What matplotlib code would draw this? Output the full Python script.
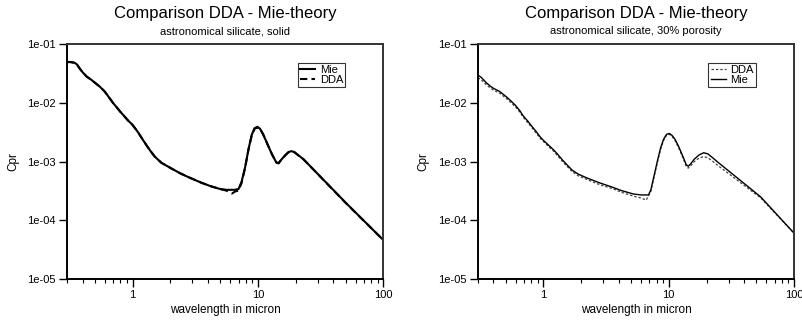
#!/usr/bin/env python3
"""Comparison DDA vs Mie-theory: radiation pressure cross section, two panels."""

import matplotlib
matplotlib.use("Agg")
import matplotlib.pyplot as plt
from matplotlib.ticker import FixedLocator, LogLocator, NullFormatter

plt.rcParams["font.family"] = ["Liberation Sans", "DejaVu Sans"]

# --- solid grain (left panel) ---
wl_solid_mie = [0.30, 0.32, 0.345, 0.36, 0.38, 0.40, 0.43, 0.47, 0.50, 0.55, 0.60, 0.65, 0.70,
                0.75, 0.80, 0.86, 0.92, 1.0, 1.1, 1.2, 1.3, 1.4, 1.5, 1.7, 2.0, 2.4, 2.8, 3.5,
                4.2, 5.0, 5.6, 6.5, 7.0, 7.4, 7.9, 8.4, 8.9, 9.4, 9.9, 10.4, 11.0, 12.0, 13.0,
                14.0, 14.6, 15.5, 16.5, 17.5, 18.5, 19.5, 21.0, 23.0, 50.0, 100.0]
cpr_solid_mie = [0.0494, 0.0494, 0.048, 0.045, 0.038, 0.033, 0.028, 0.0245, 0.022, 0.0187,
                 0.0155, 0.0123, 0.0099, 0.0083, 0.0070, 0.0059, 0.0050, 0.0042, 0.0032, 0.0024,
                 0.00185, 0.00148, 0.00122, 0.00095, 0.00078, 0.00063, 0.00054, 0.00044,
                 0.00038, 0.00034, 0.00033, 0.00033, 0.00034, 0.00045, 0.0008, 0.0016, 0.0028,
                 0.0037, 0.0039, 0.0036, 0.0029, 0.0019, 0.0013, 0.00097, 0.00094, 0.0011,
                 0.00128, 0.00145, 0.0015, 0.00145, 0.00128, 0.0011, 0.0002, 4.6e-5]
wl_solid_dda = [0.30, 0.32, 0.345, 0.36, 0.38, 0.40, 0.43, 0.47, 0.50, 0.55, 0.60, 0.65, 0.70,
                0.75, 0.80, 0.86, 0.92, 1.0, 1.1, 1.2, 1.3, 1.4, 1.5, 1.7, 2.0, 2.4, 2.8, 3.5,
                4.2, 5.0, 5.6, 6.2, 6.6, 7.0, 7.4, 7.9, 8.4, 8.9, 9.4, 9.9, 10.4, 11.0, 12.0,
                13.0, 14.0, 14.6, 15.5, 16.5, 17.5, 18.5, 19.5, 21.0, 23.0, 50.0, 100.0]
cpr_solid_dda = [0.0492, 0.0492, 0.0478, 0.0448, 0.038, 0.033, 0.028, 0.0245, 0.022, 0.0187,
                 0.0155, 0.0123, 0.0099, 0.0083, 0.0070, 0.0059, 0.0050, 0.0042, 0.0032, 0.0024,
                 0.00185, 0.00148, 0.00122, 0.00095, 0.00078, 0.00063, 0.00054, 0.00044,
                 0.00038, 0.00034, 0.00032, 0.000285, 0.00031, 0.00032, 0.00043, 0.00078,
                 0.0016, 0.0027, 0.0036, 0.0038, 0.0036, 0.0029, 0.0019, 0.0013, 0.00096,
                 0.00093, 0.0011, 0.00127, 0.00143, 0.00148, 0.00144, 0.00127, 0.0011,
                 0.000198, 4.6e-5]

# --- 30% porosity (right panel) ---
wl_por_mie = [0.30, 0.32, 0.35, 0.38, 0.40, 0.45, 0.51, 0.55, 0.60, 0.65, 0.69, 0.75, 0.80,
              0.87, 0.94, 1.0, 1.1, 1.2, 1.28, 1.4, 1.55, 1.7, 1.9, 2.2, 2.84, 3.5, 4.2, 5.23,
              6.0, 6.89, 7.2, 7.6, 8.1, 8.6, 9.1, 9.6, 10.1, 10.6, 11.2, 12.0, 13.0, 13.8,
              14.3, 15.0, 16.0, 17.5, 19.0, 20.5, 22.5, 24.4, 54.1, 100.0]
cpr_por_mie = [0.0297, 0.027, 0.022, 0.019, 0.0176, 0.0155, 0.0125, 0.0108, 0.0090, 0.0073,
               0.0060, 0.0049, 0.0041, 0.0033, 0.00265, 0.0023, 0.0019, 0.0016, 0.00138,
               0.00110, 0.00087, 0.00071, 0.00061, 0.00053, 0.00043, 0.00037, 0.00032,
               0.00028, 0.00027, 0.00027, 0.00033, 0.00055, 0.0010, 0.0017, 0.0024, 0.0029,
               0.0030, 0.0028, 0.0024, 0.0018, 0.0012, 0.00088, 0.00083, 0.00092, 0.0011,
               0.0013, 0.00141, 0.00135, 0.00115, 0.00099, 0.00025, 6.0e-5]
wl_por_dda = [0.30, 0.32, 0.35, 0.38, 0.40, 0.45, 0.51, 0.55, 0.60, 0.65, 0.69, 0.75, 0.80,
              0.87, 0.94, 1.0, 1.1, 1.2, 1.28, 1.4, 1.55, 1.7, 1.9, 2.2, 2.84, 3.5, 4.2, 5.3,
              6.0, 6.6, 7.2, 7.6, 8.1, 8.6, 9.1, 9.6, 10.1, 10.6, 11.2, 12.0, 13.0, 13.8,
              14.3, 15.0, 16.0, 17.5, 19.0, 20.5, 22.5, 24.4, 54.1, 100.0]
cpr_por_dda = [0.0268, 0.0245, 0.0203, 0.0177, 0.0164, 0.0145, 0.0117, 0.0101, 0.0085, 0.0069,
               0.0057, 0.0046, 0.0039, 0.0031, 0.0025, 0.0022, 0.0018, 0.00152, 0.00130,
               0.00104, 0.00082, 0.00067, 0.00057, 0.00050, 0.00040, 0.00035, 0.00030,
               0.000255, 0.00024, 0.00022, 0.00031, 0.00052, 0.00095, 0.0016, 0.0023,
               0.0028, 0.0029, 0.0027, 0.0023, 0.0017, 0.00115, 0.00082, 0.00077, 0.00085,
               0.00100, 0.00115, 0.00121, 0.00116, 0.00100, 0.00087, 0.00024, 6.0e-5]

yticks = [1e-5, 1e-4, 1e-3, 1e-2, 1e-1]
ytick_labels = ["1e-05", "1e-04", "1e-03", "1e-02", "1e-01"]
xticks = [1, 10, 100]
xtick_labels = ["1", "10", "100"]


def style_axes(ax, subtitle):
    ax.set_xscale("log")
    ax.set_yscale("log")
    ax.set_xlim(0.3, 100)
    ax.set_ylim(1e-5, 1e-1)
    ax.yaxis.set_major_locator(FixedLocator(yticks))
    ax.set_yticklabels(ytick_labels)
    ax.yaxis.set_minor_locator(FixedLocator([]))
    ax.xaxis.set_major_locator(FixedLocator(xticks))
    ax.set_xticklabels(xtick_labels)
    ax.xaxis.set_minor_locator(LogLocator(base=10, subs=range(2, 10)))
    ax.xaxis.set_minor_formatter(NullFormatter())
    ax.tick_params(axis="both", which="major", direction="out", length=6, width=1,
                   labelsize=8, pad=2)
    ax.tick_params(axis="x", which="minor", direction="out", length=3, width=0.8)
    for side in ["left", "bottom"]:
        ax.spines[side].set_linewidth(1.4)
    for side in ["top", "right"]:
        ax.spines[side].set_linewidth(1.4)
        ax.spines[side].set_color("#333333")
    ax.set_xlabel("wavelength in micron", fontsize=8.5, labelpad=3)
    ax.set_ylabel("Cpr", fontsize=8.5, labelpad=6)
    ax.text(0.5, 1.128, "Comparison DDA - Mie-theory", transform=ax.transAxes,
            ha="center", va="center", fontsize=12)
    ax.text(0.5, 1.055, subtitle, transform=ax.transAxes,
            ha="center", va="center", fontsize=8)


def add_legend(ax):
    leg = ax.legend(loc="upper right", bbox_to_anchor=(0.88, 0.919), fontsize=8,
                    fancybox=False, handlelength=1.4, handletextpad=0.4, borderpad=0.2,
                    labelspacing=0.0, borderaxespad=0)
    leg.get_frame().set_edgecolor("black")
    leg.get_frame().set_linewidth(0.8)


fig = plt.figure(figsize=(8.03, 3.2), dpi=100)
ax1 = fig.add_axes([0.0834, 0.128, 0.394, 0.7345])
ax2 = fig.add_axes([0.595, 0.128, 0.394, 0.7345])

# --- Panel 1: solid ---
ax1.plot(wl_solid_mie, cpr_solid_mie, color="black", lw=1.5, label="Mie")
ax1.plot(wl_solid_dda, cpr_solid_dda, color="black", lw=1.5, linestyle=(0, (3.5, 2)), label="DDA")
style_axes(ax1, "astronomical silicate, solid")
add_legend(ax1)

# --- Panel 2: 30% porosity ---
ax2.plot(wl_por_dda, cpr_por_dda, color="#444444", lw=0.9, linestyle=(0, (2, 1.5)), label="DDA")
ax2.plot(wl_por_mie, cpr_por_mie, color="black", lw=1.0, label="Mie")
style_axes(ax2, "astronomical silicate, 30% porosity")
add_legend(ax2)

fig.savefig("out.png", dpi=100)
